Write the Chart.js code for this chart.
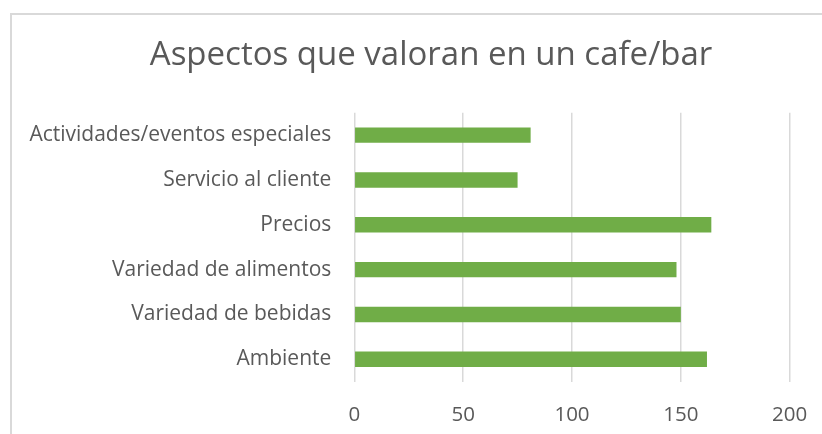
<!DOCTYPE html>
<html>
<head>
<meta charset="utf-8">
<script src="https://cdn.jsdelivr.net/npm/chart.js@4.4.1/dist/chart.umd.min.js"></script>
<style>
  html, body { margin: 0; padding: 0; background: #ffffff; }
  #wrap { width: 822px; height: 434px; position: relative; }
</style>
</head>
<body>
<div id="wrap"><canvas id="c" width="822" height="434"></canvas></div>
<script>
const chartTitle = 'Aspectos que valoran en un cafe/bar';
const categories = [
  'Actividades/eventos especiales',
  'Servicio al cliente',
  'Precios',
  'Variedad de alimentos',
  'Variedad de bebidas',
  'Ambiente'
];
const values = [81, 75, 164, 148, 150, 162];
const xTicks = [0, 50, 100, 150, 200];

const FONT = "'Open Sans', 'DejaVu Sans', sans-serif";
const TEXT = '#595959';
const GRID = '#d9d9d9';
const PAD_LEFT = 40;

const frame = {
  id: 'frame',
  beforeDraw(chart) {
    const ctx = chart.ctx;
    ctx.save();
    ctx.fillStyle = '#ffffff';
    ctx.fillRect(0, 0, chart.width, chart.height);
    ctx.strokeStyle = GRID;
    ctx.lineWidth = 2;
    ctx.strokeRect(11, 14, chart.width + 20, chart.height + 20);
    ctx.restore();
  },
  afterLayout(chart) {
    // let the long category labels extend into the left padding without clipping
    chart.scales.y.left = 0;
  }
};

new Chart(document.getElementById('c'), {
  type: 'bar',
  data: {
    labels: categories,
    datasets: [{
      data: values,
      backgroundColor: '#70ad47',
      borderWidth: 0,
      categoryPercentage: 1,
      barPercentage: 0.345
    }]
  },
  options: {
    indexAxis: 'y',
    responsive: false,
    animation: false,
    devicePixelRatio: 1,
    layout: { padding: { left: PAD_LEFT, right: 0, top: 0, bottom: 0 } },
    plugins: {
      legend: { display: false },
      tooltip: { enabled: false },
      title: {
        display: true,
        text: chartTitle,
        color: TEXT,
        font: { family: FONT, size: 33, weight: 'normal', lineHeight: 1.2 },
        padding: { top: 36, bottom: 37.1 }
      }
    },
    scales: {
      x: {
        min: 0,
        max: 200,
        afterBuildTicks(scale) { scale.ticks = xTicks.map(v => ({ value: v })); },
        afterFit(scale) {
          scale.height = 52.3;
          scale.paddingLeft = 0;
          scale.paddingRight = 0;
        },
        grid: { color: GRID, lineWidth: 1.5, drawTicks: false },
        border: { display: false },
        ticks: { color: TEXT, padding: 21, font: { family: FONT, size: 20.5 } }
      },
      y: {
        afterFit(scale) { scale.width = 354.3 - PAD_LEFT; },
        grid: { display: false, drawTicks: false },
        border: { display: false },
        ticks: { color: TEXT, padding: 23, font: { family: FONT, size: 21 } }
      },
      yRight: {
        type: 'category',
        position: 'right',
        labels: categories,
        afterFit(scale) { scale.width = 32.3; },
        grid: { display: false, drawTicks: false },
        border: { display: false },
        ticks: { display: false }
      }
    }
  },
  plugins: [frame]
});
</script>
</body>
</html>
